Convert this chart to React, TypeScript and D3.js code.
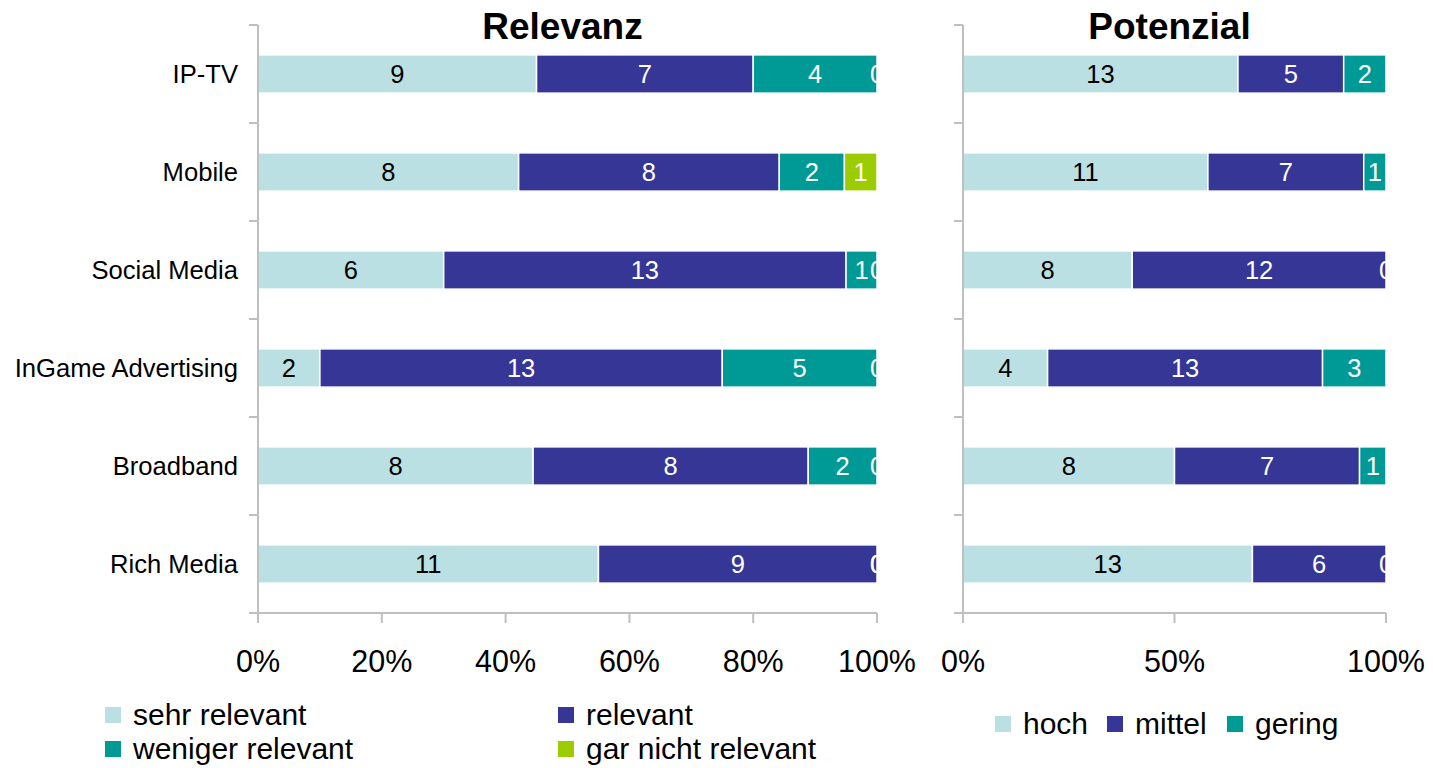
import React from 'react';
import * as d3 from 'd3';

const categories = ['IP-TV', 'Mobile', 'Social Media', 'InGame Advertising', 'Broadband', 'Rich Media'];

// Relevanz
const sehrRelevant = [9, 8, 6, 2, 8, 11];
const relevant = [7, 8, 13, 13, 8, 9];
const wenigerRelevant = [4, 2, 1, 5, 2, 0];
const garNichtRelevant = [0, 1, 0, 0, 0, 0];

// Potenzial
const hoch = [13, 11, 8, 4, 8, 13];
const mittel = [5, 7, 12, 13, 7, 6];
const gering = [2, 1, 0, 3, 1, 0];

const relevanzTicks = [0, 0.2, 0.4, 0.6, 0.8, 1];
const potenzialTicks = [0, 0.5, 1];

const COLORS = ['#BBE0E3', '#363696', '#009A96', '#9ACC00'];
const TEXT_COLORS = ['#000', '#fff', '#fff', '#fff'];
const FONT = '"Liberation Sans", Arial, sans-serif';
const AXIS = '#BFBFBF';

const TOP = 25;
const BOTTOM = 613;

interface PanelProps {
  id: string;
  title: string;
  x0: number;
  x1: number;
  series: number[][];
  ticks: number[];
}

const y = d3.scaleBand<string>().domain(categories).range([TOP, BOTTOM]).padding(0);
const barH = y.bandwidth() * 0.39;

function Panel({ id, title, x0, x1, series, ticks }: PanelProps) {
  const x = d3.scaleLinear().domain([0, 1]).range([x0, x1]);
  const rows = categories.map((c, i) => {
    const vals = series.map(s => s[i]);
    const total = d3.sum(vals);
    let acc = 0;
    return vals.map((v, k) => {
      const start = acc / total;
      acc += v;
      return { c, k, v, start, end: acc / total };
    });
  });
  const fmt = d3.format('.0%');
  return (
    <g>
      <defs>
        <clipPath id={id}>
          <rect x={x0} y={TOP} width={x1 - x0} height={BOTTOM - TOP} />
        </clipPath>
      </defs>
      <text x={(x0 + x1) / 2 - 5} y={39} textAnchor="middle" fontSize={37} fontWeight="bold">{title}</text>
      <g clipPath={`url(#${id})`}>
        {rows.map(segs => segs.map(s => (
          <rect key={`${s.c}-${s.k}`} x={x(s.start)} y={y(s.c)! + (y.bandwidth() - barH) / 2}
            width={x(s.end) - x(s.start)} height={barH} fill={COLORS[s.k]} stroke="#fff" strokeWidth={1.5} />
        )))}
        {rows.map(segs => segs.map(s => (
          <text key={`t-${s.c}-${s.k}`} x={x((s.start + s.end) / 2)} y={y(s.c)! + y.bandwidth() / 2 + 9}
            textAnchor="middle" fontSize={25.5} fill={TEXT_COLORS[s.k]}>{s.v}</text>
        )))}
      </g>
      {/* vertical axis */}
      <line x1={x0} x2={x0} y1={TOP} y2={BOTTOM} stroke={AXIS} strokeWidth={2} />
      {d3.range(categories.length + 1).map(i => {
        const yy = TOP + i * y.step();
        return <line key={i} x1={x0 - 9} x2={x0} y1={yy} y2={yy} stroke={AXIS} strokeWidth={2} />;
      })}
      {/* horizontal axis */}
      <line x1={x0 - 9} x2={x1} y1={BOTTOM} y2={BOTTOM} stroke={AXIS} strokeWidth={2} />
      {ticks.map(t => (
        <g key={t}>
          <line x1={x(t)} x2={x(t)} y1={BOTTOM} y2={BOTTOM + 10} stroke={AXIS} strokeWidth={2} />
          <text x={x(t)} y={672} textAnchor="middle" fontSize={30.5}>{fmt(t)}</text>
        </g>
      ))}
    </g>
  );
}

function LegendItem({ x, yy, color, label }: { x: number; yy: number; color: string; label: string }) {
  return (
    <g>
      <rect x={x} y={yy - 18} width={16} height={16} fill={color} />
      <text x={x + 28} y={yy} fontSize={30}>{label}</text>
    </g>
  );
}

export default function App() {
  return (
    <svg width={1433} height={768} style={{ position: 'absolute', left: 0, top: 0, fontFamily: FONT }}>
      <rect width={1433} height={768} fill="#fff" />
      {categories.map(c => (
        <text key={c} x={238} y={y(c)! + y.bandwidth() / 2 + 9} textAnchor="end" fontSize={25.6}>{c}</text>
      ))}
      <Panel id="clipRel" title="Relevanz" x0={258} x1={877}
        series={[sehrRelevant, relevant, wenigerRelevant, garNichtRelevant]} ticks={relevanzTicks} />
      <Panel id="clipPot" title="Potenzial" x0={963} x1={1386}
        series={[hoch, mittel, gering]} ticks={potenzialTicks} />
      <LegendItem x={105} yy={725} color={COLORS[0]} label="sehr relevant" />
      <LegendItem x={558} yy={725} color={COLORS[1]} label="relevant" />
      <LegendItem x={105} yy={759} color={COLORS[2]} label="weniger relevant" />
      <LegendItem x={558} yy={759} color={COLORS[3]} label="gar nicht relevant" />
      <LegendItem x={995} yy={734} color={COLORS[0]} label="hoch" />
      <LegendItem x={1107} yy={734} color={COLORS[1]} label="mittel" />
      <LegendItem x={1227} yy={734} color={COLORS[2]} label="gering" />
    </svg>
  );
}
